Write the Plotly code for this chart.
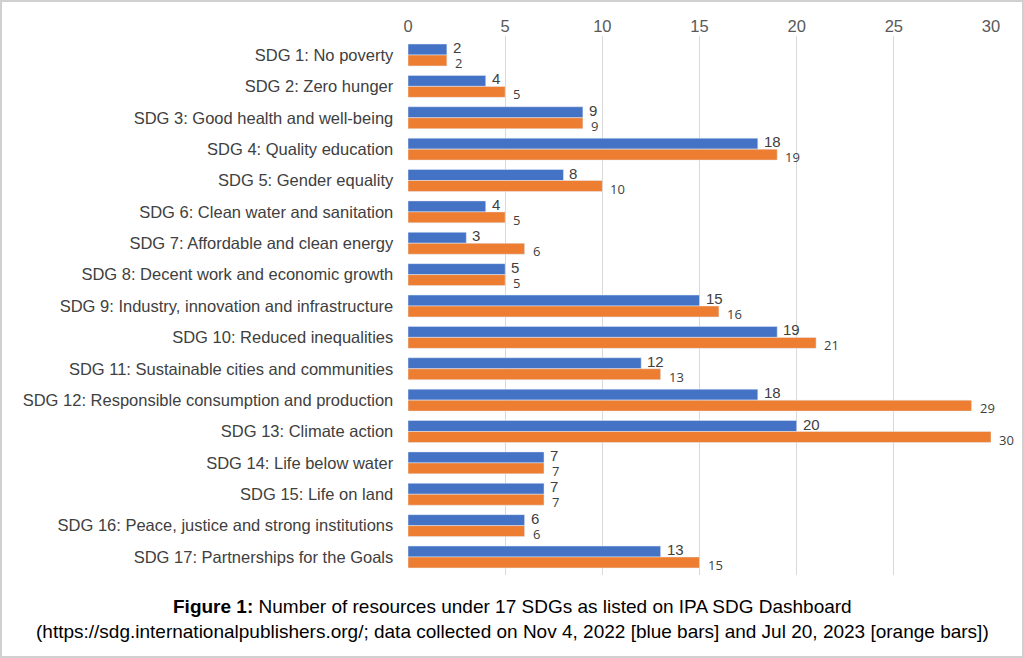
import plotly.graph_objects as go

# SDG categories and resource counts
categories = [
    'SDG 1: No poverty',
    'SDG 2: Zero hunger',
    'SDG 3: Good health and well-being',
    'SDG 4: Quality education',
    'SDG 5: Gender equality',
    'SDG 6: Clean water and sanitation',
    'SDG 7: Affordable and clean energy',
    'SDG 8: Decent work and economic growth',
    'SDG 9: Industry, innovation and infrastructure',
    'SDG 10: Reduced inequalities',
    'SDG 11: Sustainable cities and communities',
    'SDG 12: Responsible consumption and production',
    'SDG 13: Climate action',
    'SDG 14: Life below water',
    'SDG 15: Life on land',
    'SDG 16: Peace, justice and strong institutions',
    'SDG 17: Partnerships for the Goals',
]
nov_2022 = [2, 4, 9, 18, 8, 4, 3, 5, 15, 19, 12, 18, 20, 7, 7, 6, 13]
jul_2023 = [2, 5, 9, 19, 10, 5, 6, 5, 16, 21, 13, 29, 30, 7, 7, 6, 15]
x_ticks = [0, 5, 10, 15, 20, 25, 30]

caption = ('<b>Figure 1:</b> Number of resources under 17 SDGs as listed on IPA SDG Dashboard<br>'
           '(https://sdg.internationalpublishers.org/; data collected on Nov 4, 2022 '
           '[blue bars] and Jul 20, 2023 [orange bars])')

fig = go.Figure()

fig.add_trace(go.Bar(
    y=categories, x=nov_2022, orientation='h', name='Nov 4, 2022',
    marker=dict(color='#4472C4'),
))
fig.add_trace(go.Bar(
    y=categories, x=jul_2023, orientation='h', name='Jul 20, 2023',
    marker=dict(color='#ED7D31'),
))

# value labels, blue a bit above and orange a bit below the category centre
labels = []
for cat, v in zip(categories, nov_2022):
    labels.append(dict(x=v, y=cat, text=str(v), showarrow=False,
                       xanchor='left', yanchor='middle', xshift=4, yshift=7.5,
                       font=dict(size=15, color='#404040', family='Liberation Sans')))
for cat, v in zip(categories, jul_2023):
    labels.append(dict(x=v, y=cat, text=str(v), showarrow=False,
                       xanchor='left', yanchor='middle', xshift=6, yshift=-8,
                       font=dict(size=13, color='#404040', family='Open Sans')))

# Plot area in pixels, used for the outer border shape
L, R, T, B = 408, 33, 36, 83
W, H = 1024, 658
pw, ph = W - L - R, H - T - B

labels.append(dict(
    text=caption, xref='paper', yref='paper',
    x=(W / 2 - L) / pw, y=-(619 - (T + ph)) / ph,
    xanchor='center', yanchor='middle', showarrow=False,
    font=dict(family='Liberation Sans, Arial', size=19, color='#000000'),
    align='center',
))

fig.update_layout(
    width=W, height=H,
    margin=dict(l=L, r=R, t=T, b=B),
    barmode='group', bargap=0.3, bargroupgap=0,
    showlegend=False,
    plot_bgcolor='white', paper_bgcolor='white',
    font=dict(family='Liberation Sans, Arial', size=16, color='#595959'),
    xaxis=dict(
        side='top', range=[0, 30], tickvals=x_ticks,
        showgrid=True, gridcolor='#D9D9D9', gridwidth=1,
        zeroline=False, showline=False, ticks='',
        tickfont=dict(size=16.5, color='#595959'),
    ),
    yaxis=dict(
        autorange='reversed', showgrid=False, zeroline=False,
        showline=False, ticks='', ticksuffix='   ',
        tickfont=dict(size=16.5, color='#404040'),
    ),
    annotations=labels,
    shapes=[dict(
        type='rect', xref='paper', yref='paper',
        x0=-(L - 1) / pw, x1=(pw + R - 1) / pw,
        y0=-(B - 1) / ph, y1=(ph + T - 1) / ph,
        line=dict(color='#D0D0D0', width=2), layer='below',
    )],
)

fig.write_html('out.html', config={'displayModeBar': False},
               post_script="document.body.style.margin='0';")
